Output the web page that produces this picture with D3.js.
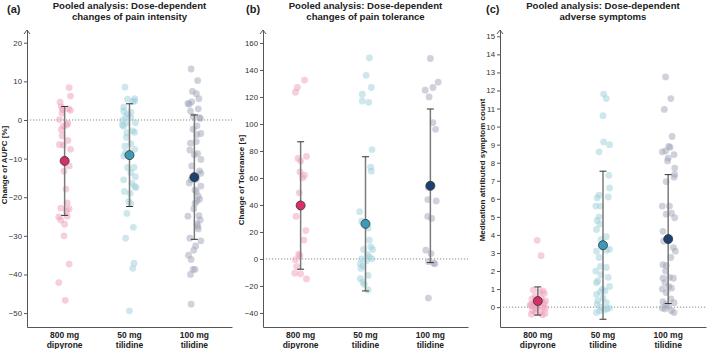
<!DOCTYPE html>
<html>
<head>
<meta charset="utf-8">
<script src="https://cdnjs.cloudflare.com/ajax/libs/d3/7.8.5/d3.min.js"></script>
<style>
body { margin: 0; background: #fff; }
svg { display: block; font-family: "Liberation Sans", Arial, sans-serif; }
.axis text { font-size: 7.8px; fill: #333; }
.axis path, .axis line { stroke: #555; }
</style>
</head>
<body>
<div id="chart"></div>
<script>
// categories (two-line labels)
var categories = [["800 mg", "dipyrone"], ["50 mg", "tilidine"], ["100 mg", "tilidine"]];

// points: [value, horizontal jitter in category units]
// (a) change of AUPC [%]
var aupcDipyrone = [[8.4,.07],[6.2,.09],[4.6,-.07],[3.4,-.05],[2.9,.06],[2.7,-.03],[2.5,.09],[1.8,-.04],[0.1,-.08],[-0.9,.05],[-1.3,.03],[-1.6,-.02],[-2.5,-.05],[-4.1,-.04],[-5.3,.05],[-6.4,-.08],[-6.5,-.02],[-7.6,.09],[-11.9,.07],[-13.3,-.01],[-17.9,.02],[-21.5,.04],[-22.8,-.06],[-23,.07],[-23.5,.03],[-25.1,-.09],[-25.9,-.06],[-24.9,.04],[-27.0,.0],[-30.0,-.01],[-37.3,.07],[-42.1,-.09],[-46.7,.01]];
var aupcTil50 = [[8.5,-.07],[5.5,.08],[4.8,.05],[5.4,-.03],[4.9,.08],[3.3,-.09],[2.3,-.09],[2.0,.02],[1.5,-.03],[0.9,-.06],[0.6,.02],[-0.1,-.11],[-0.7,-.04],[-0.7,.09],[-1.3,-.11],[-1.6,-.09],[-2.8,.05],[-3.3,-.04],[-3.2,.08],[-4.5,-.05],[-6.1,.02],[-6.8,-.07],[-7.6,.08],[-8.5,-.06],[-9.3,-.09],[-12.3,-.03],[-12.3,.07],[-13.6,.02],[-14.7,.09],[-15.5,-.09],[-16.4,.04],[-17.2,.08],[-17.5,.10],[-18.5,-.08],[-19.0,.01],[-21.1,-.01],[-21.7,.02],[-24.2,-.04],[-27.8,.06],[-30.6,-.06],[-37.1,.07],[-38.4,.05],[-49.4,0.0]];
var aupcTil100 = [[13.2,-.05],[10.2,.05],[7.4,-.03],[6.8,.03],[5.5,.07],[4.7,-.04],[4.3,-.1],[4.1,-.08],[2.9,.06],[2.3,-.06],[0.9,-.02],[0.4,.09],[0.6,.08],[-1.5,.04],[-2.4,-.02],[-3.5,.1],[-3.8,.04],[-5.6,.03],[-6.0,-.06],[-7.8,-.07],[-8.7,.05],[-9.0,.0],[-10.2,.1],[-11.9,-.04],[-13.2,.08],[-13.8,.1],[-15.4,.03],[-15.5,-.05],[-16.3,-.08],[-17.1,.1],[-18.1,.01],[-18.5,.03],[-19.7,.06],[-20.5,.08],[-21.0,.04],[-21.6,.01],[-23.0,-.01],[-24.9,-.1],[-24.8,.07],[-25.9,.09],[-26.9,.04],[-27.5,.05],[-28.2,.06],[-30.6,-.07],[-31.3,.1],[-32.6,.02],[-33.7,-.01],[-35.0,-.09],[-36.1,-.05],[-38.7,-.02],[-38.7,.01],[-40.0,-.06],[-47.7,-.05]];
var aupcMeans = [-10.6, -9.1, -14.8];
var aupcSd = [14.1, 13.3, 16.1];
var aupcTicks = [-50, -40, -30, -20, -10, 0, 10, 20];

// (b) change of tolerance [s]
var tolDipyrone = [[132.5,.06],[127,-.05],[123.5,-.08],[76,.09],[74.5,-.04],[72.5,0.0],[64.5,-.01],[62,.06],[60,.03],[49,-.02],[31.5,-.07],[21,.08],[14,.05],[3.5,-.03],[2.5,-.01],[-0.5,-.08],[-5.5,-.06],[-10.5,-.09],[-11,.0],[-14.8,.09]];
var tolTil50 = [[149,.06],[136,.01],[127,.09],[122,-.05],[117,-.05],[116,.05],[81,.1],[68,.08],[65,.09],[35,-.09],[28,-.06],[23,.04],[14,.06],[9,.08],[7,.11],[7,-.03],[3.3,.03],[1.6,.06],[0.1,-.06],[0.1,.1],[-1,0.02],[-3.6,-.08],[-5.3,-.04],[-7,-.07],[-12.2,.04],[-14.6,-.08],[-17.1,-.04],[-18.8,-.02],[-23,.04]];
var tolTil100 = [[148.5,0.0],[131,.12],[127,.04],[125,-.08],[120,-.02],[101,.04],[96,.08],[53,-.03],[44,-.04],[43,.09],[31.5,-.04],[30,.02],[6.5,-.07],[4,.01],[-2,-.03],[-3,.05],[-3.6,.07],[-29,-.03]];
var tolMeans = [39.6, 26.0, 54.2];
var tolSd = [47.2, 49.7, 56.9];
var tolTicks = [-40, -20, 0, 20, 40, 60, 80, 100, 120, 140, 160];

// (c) medication attributed symptom count
var symDipyrone = [[3.7,-.01],[2.85,.05],[0.95,-.07],[0.85,.03],[0.75,.1],[0.6,-.04],[0.45,-.09],[0.35,.12],[0.3,.06],[0.25,-.05],[0.2,.02],[0.2,.1],[0.15,-.1],[0.05,.0],[0.05,-.07],[0.0,.08],[-0.05,.12],[-0.1,-.03],[-0.2,-.08],[-0.25,.04],[-0.3,-.03],[-0.35,.11],[-0.4,-.1],[-0.42,.07],[0.1,-.12],[0.9,.08],[0.5,.05]];
var symTil50 = [[11.8,.01],[11.55,.05],[10.6,0.0],[9.15,.01],[9.0,.1],[8.6,-.06],[7.3,.09],[6.6,.1],[6.2,-.06],[6.05,-.09],[6.1,.08],[5.6,-.11],[5.6,-.04],[5.0,-.06],[4.8,-.09],[4.6,-.05],[4.3,-.1],[3.9,.05],[3.75,-.03],[3.1,-.1],[3.15,.05],[3.2,.1],[2.75,-.06],[2.25,-.04],[2.2,.05],[2.0,-.11],[1.8,-.03],[1.65,.08],[1.45,-.08],[1.35,-.1],[1.15,.1],[1.0,-.01],[0.9,.03],[0.85,-.04],[0.7,-.1],[0.5,0.0],[0.35,-.08],[0.25,.05],[0.15,-.09],[0.0,-.03],[-0.1,.06],[-0.15,.02],[-0.2,-.05],[-0.3,-.1],[-0.05,.1]];
var symTil100 = [[12.75,-.04],[11.55,.04],[10.95,-.06],[9.45,.06],[8.9,.01],[8.85,.03],[8.65,-.04],[8.6,-.09],[8.45,.09],[8.25,0.0],[8.1,-.01],[7.7,.1],[7.35,.1],[7.2,.09],[6.95,-.03],[5.6,-.09],[5.6,.02],[5.15,-.03],[5.2,.05],[4.95,.1],[4.2,-.08],[3.85,.02],[3.65,-.07],[3.3,.08],[3.1,.11],[2.75,.04],[2.35,-.08],[2.3,-.03],[2.0,-.04],[1.65,.02],[1.6,.08],[1.6,-.08],[1.35,-.05],[1.15,.01],[1.05,.05],[1.0,-.09],[0.8,-.03],[0.45,.04],[0.3,-.08],[0.25,.09],[0.15,-.03],[0.05,.0],[-0.05,-.09],[-0.1,-.05],[-0.2,.05],[-0.3,.09]];
var symMeans = [0.34, 3.43, 3.77];
var symSd = [0.78, 4.1, 3.57];
var symTicks = d3.range(0, 16);

var pointColors = ["#ef9db7", "#9ccfdb", "#a0a4b8"];
var meanColors = ["#d62f6c", "#3a9db8", "#1c4370"];

var panels = [
    {letter: "(a)", title: ["Pooled analysis: Dose-dependent", "changes of pain intensity"],
     ylabel: "Change of AUPC [%]", ticks: aupcTicks, domain: [-53.6, 23.3],
     groups: [aupcDipyrone, aupcTil50, aupcTil100], means: aupcMeans, sds: aupcSd},
    {letter: "(b)", title: ["Pooled analysis: Dose-dependent", "changes of pain tolerance"],
     ylabel: "Change of Tolerance [s]", ticks: tolTicks, domain: [-50.4, 169.6],
     groups: [tolDipyrone, tolTil50, tolTil100], means: tolMeans, sds: tolSd},
    {letter: "(c)", title: ["Pooled analysis: Dose-dependent", "adverse symptoms"],
     ylabel: "Medication attributed symptom count", ticks: symTicks, domain: [-1.1, 15.35],
     groups: [symDipyrone, symTil50, symTil100], means: symMeans, sds: symSd}
];

// layout of the three panels
var layout = [
    {left: 27, right: 232, letterX: 7, labelX: 7, labelY: 165},
    {left: 263, right: 468, letterX: 246, labelX: 244, labelY: 180},
    {left: 500, right: 706, letterX: 486, labelX: 485, labelY: 170}
];

var svg = d3.select("#chart").append("svg")
    .attr("width", 709)
    .attr("height", 349);

svg.append("rect").attr("width", 709).attr("height", 349).attr("fill", "#fff");

dosePanel = function(_svg, _panel, _layout){
    this.svg = _svg;
    this.panel = _panel;
    this.layout = _layout;
    this.initVis();
}

dosePanel.prototype.initVis = function(){
    var vis = this;
    var p = vis.panel, l = vis.layout;
    vis.top = 30;
    vis.bottom = 327;

    vis.g = vis.svg.append("g");

    vis.xScale = d3.scaleLinear()
        .domain([-0.58, 2.58])
        .range([l.left, l.right]);

    vis.yScale = d3.scaleLinear()
        .domain(p.domain)
        .range([vis.bottom, vis.top]);

    // zero reference line
    vis.g.append("line")
        .attr("x1", l.left).attr("x2", l.right)
        .attr("y1", vis.yScale(0)).attr("y2", vis.yScale(0))
        .attr("stroke", "#8a8a8a")
        .attr("stroke-width", 1)
        .attr("stroke-dasharray", "1.2,1.8");

    // y axis
    vis.yAxis = d3.axisLeft(vis.yScale).tickValues(p.ticks).tickSize(3).tickSizeOuter(0).tickPadding(2);
    vis.g.append("g")
        .attr("class", "axis")
        .attr("transform", "translate(" + l.left + ",0)")
        .call(vis.yAxis);

    // arrow head on the y axis
    vis.g.append("path")
        .attr("d", "M" + (l.left - 3) + "," + (vis.top + 4) + "L" + l.left + "," + vis.top + "L" + (l.left + 3) + "," + (vis.top + 4))
        .attr("fill", "none")
        .attr("stroke", "#555");

    // x axis
    vis.xAxis = d3.axisBottom(vis.xScale).tickValues([]).tickSizeOuter(0);
    vis.g.append("g")
        .attr("class", "axis")
        .attr("transform", "translate(0," + vis.bottom + ")")
        .call(vis.xAxis);

    // category labels
    categories.forEach(function(c, i){
        var t = vis.g.append("text")
            .attr("text-anchor", "middle")
            .style("font-size", "8.5px")
            .style("font-weight", "bold")
            .style("fill", "#222");
        t.append("tspan").attr("x", vis.xScale(i)).attr("y", 338).text(c[0]);
        t.append("tspan").attr("x", vis.xScale(i)).attr("y", 347.5).text(c[1]);
    });

    // jittered points
    p.groups.forEach(function(grp, i){
        vis.g.append("g").selectAll("circle")
            .data(grp)
            .enter().append("circle")
            .attr("cx", function(d){ return vis.xScale(i + d[1]); })
            .attr("cy", function(d){ return vis.yScale(d[0]); })
            .attr("r", 3.4)
            .attr("fill", pointColors[i])
            .attr("fill-opacity", 0.5);
    });

    // error bars and means
    p.means.forEach(function(m, i){
        var x = vis.xScale(i);
        var y1 = vis.yScale(m + p.sds[i]), y2 = vis.yScale(m - p.sds[i]);
        vis.g.append("line")
            .attr("x1", x).attr("x2", x).attr("y1", y1).attr("y2", y2)
            .attr("stroke", "#7a7a7a").attr("stroke-width", 1.5);
        [y1, y2].forEach(function(y){
            vis.g.append("line")
                .attr("x1", x - 3.5).attr("x2", x + 3.5).attr("y1", y).attr("y2", y)
                .attr("stroke", "#333").attr("stroke-width", 1);
        });
        vis.g.append("circle")
            .attr("cx", x).attr("cy", vis.yScale(m))
            .attr("r", 4.5)
            .attr("fill", meanColors[i])
            .attr("stroke", "#333")
            .attr("stroke-width", 0.8);
    });

    // titles
    var cx = (l.left + l.right) / 2;
    vis.g.append("text")
        .attr("x", l.letterX).attr("y", 12.5)
        .style("font-size", "11px").style("font-weight", "bold").style("fill", "#222")
        .text(p.letter);
    p.title.forEach(function(line, k){
        vis.g.append("text")
            .attr("x", cx).attr("y", 8.5 + k * 11.5)
            .attr("text-anchor", "middle")
            .style("font-size", "9.6px").style("font-weight", "bold").style("fill", "#222")
            .text(line);
    });

    // y label
    vis.g.append("text")
        .attr("transform", "translate(" + l.labelX + "," + l.labelY + ") rotate(-90)")
        .attr("text-anchor", "middle")
        .style("font-size", "8px").style("font-weight", "bold").style("fill", "#222")
        .text(p.ylabel);
}

panels.forEach(function(p, i){
    new dosePanel(svg, p, layout[i]);
});
</script>
</body>
</html>
